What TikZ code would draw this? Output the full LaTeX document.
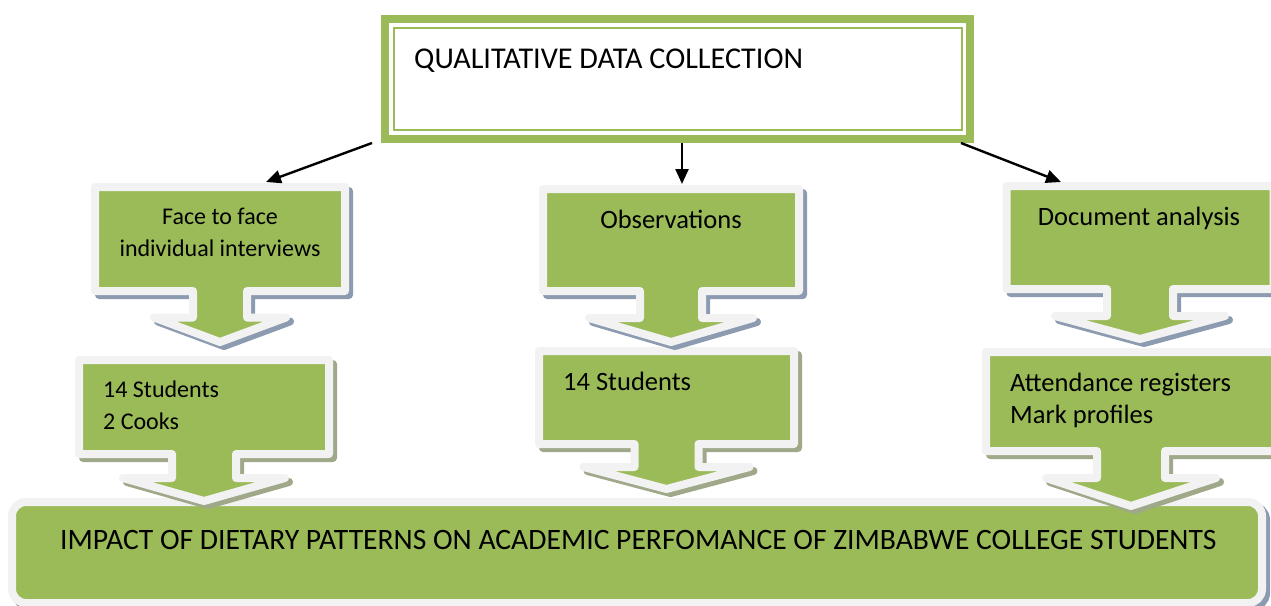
\documentclass[tikz,border=0pt]{standalone}
\usepackage{fontspec}
\setmainfont{Carlito}
\usetikzlibrary{arrows.meta, positioning, calc}

\definecolor{leaf}{HTML}{9BBB59}
\definecolor{rim}{HTML}{F2F2F2}
\definecolor{shadeblue}{RGB}{141,155,176}
\definecolor{shadeolive}{RGB}{160,168,138}

% down-arrow callout outline: centre x, top, bottom, half width,
% stem half width, head y, head half width, tip y
\newcommand{\dropoutline}[8]{(#1-#4,#2) -- (#1+#4,#2) -- (#1+#4,#3) -- (#1+#5,#3) -- (#1+#5,#6) -- (#1+#7,#6) -- (#1,#8) -- (#1-#7,#6) -- (#1-#5,#6) -- (#1-#5,#3) -- (#1-#4,#3) -- cycle}
% same outline with its shadow behind it (#9 = shadow colour)
\newcommand{\dropbox}[9]{%
  \filldraw[dropshade, draw=#9, fill=#9] \dropoutline{#1+4}{#2+4}{#3+4}{#4}{#5}{#6+4}{#7}{#8+4};
  \filldraw[callout] \dropoutline{#1}{#2}{#3}{#4}{#5}{#6}{#7}{#8};
}

\begin{document}
\begin{tikzpicture}[
  x=1pt, y=-1pt,
  callout/.style={fill=leaf, draw=rim, line width=8pt, line join=round},
  dropshade/.style={line width=8pt, line join=round},
  headtext/.style={font=\fontsize{30.2}{36}\selectfont, inner sep=0pt},
  impacttext/.style={font=\fontsize{29.6}{36}\selectfont, inner sep=0pt},
  bodytext/.style={font=\fontsize{26.5}{32}\selectfont, inner sep=0pt},
  smalltext/.style={font=\fontsize{24}{32}\selectfont, inner sep=0pt},
  framebox/.style={draw=leaf, line width=8pt, fill=white, minimum width=585pt, minimum height=120pt},
  link/.style={-{Triangle[length=15pt,width=13pt]}, line width=2.4pt},
]
\useasboundingbox (0,0) rectangle (1271,605);

% bottom outcome box
\filldraw[shadeblue, rounded corners=14pt, line width=8pt] (16,506) rectangle (1266,607);
\filldraw[callout, rounded corners=14pt] (12,502) rectangle (1262,603);
\node[impacttext, anchor=base west] (impact) at (60,549) {IMPACT OF DIETARY PATTERNS ON ACADEMIC PERFOMANCE OF ZIMBABWE COLLEGE STUDENTS};

% second row of callouts
\dropbox{204}{360}{454}{125}{32}{478}{81}{501}{shadeolive}
\dropbox{666.5}{351}{444}{127.5}{32}{467}{83}{489}{shadeolive}
\dropbox{1131}{352}{451}{145}{34}{478}{85}{506}{shadeolive}

% first row of callouts
\dropbox{220}{187}{291}{125}{27}{317.5}{66}{342}{shadeblue}
\dropbox{671}{189}{291}{128}{31}{318}{82}{342}{shadeblue}
\dropbox{1140}{186}{289}{133.5}{33}{316}{85}{339}{shadeblue}

% callout texts (multi-line nodes sit on their last baseline)
\node[smalltext, anchor=base, align=center] (face) at (220,256) {Face to face\\individual interviews};
\node[bodytext, anchor=base] (obs) at (671,228) {Observations};
\node[bodytext, anchor=base] (doc) at (1139,225) {Document analysis};
\node[smalltext, anchor=base west, align=left] (cohortA) at (103,429) {14 Students\\2 Cooks};
\node[bodytext, anchor=base west] (cohortB) at (563,390) {14 Students};
\node[bodytext, anchor=base west, align=left] (records) at (1010,423) {Attendance registers\\Mark profiles};

% top box with thick-thin frame
\node[framebox] (qual) at (677.5,79) {};
\draw[leaf, line width=2pt] ([shift={(13,13)}]qual.north west) rectangle ([shift={(-12,-13)}]qual.south east);
\node[headtext, anchor=base west] (title) at (414,68) {QUALITATIVE DATA COLLECTION};

% arrows into the first row
\coordinate (toFace) at (266,182);
\coordinate (toObs) at (682,184);
\coordinate (toDoc) at (1061,182);
\draw[link] ([xshift=-9pt]qual.south west) -- (toFace);
\draw[link] ([xshift=4.5pt]qual.south) -- (toObs);
\draw[link] ([xshift=-13pt]qual.south east) -- (toDoc);
\end{tikzpicture}
\end{document}
